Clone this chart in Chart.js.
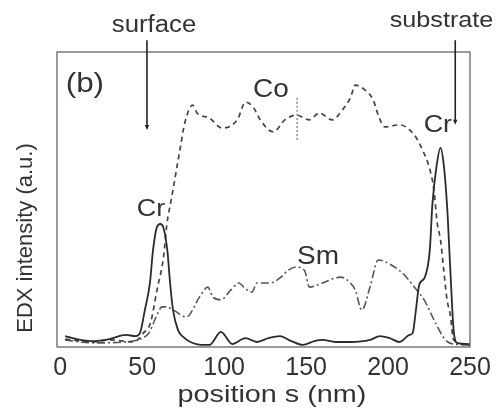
<!DOCTYPE html>
<html>
<head>
<meta charset="utf-8">
<script src="https://cdn.jsdelivr.net/npm/chart.js@4"></script>
<style>
  html, body { margin: 0; padding: 0; background: #fff; }
  #wrap { width: 500px; height: 415px; }
</style>
</head>
<body>
<div id="wrap"><canvas id="edx" width="500" height="415"></canvas></div>
<script>
// ── EDX line scan data (position s in nm, intensity in a.u. 0..100) ──
const crX = [3,10,20,30,40,46,48.6,51.6,54.7,56.6,59,61,62.8,65.3,67,68.8,71.8,75,83,91,98,105,113,120,127,134,141,148,155,160,168,177,189,195,201,207,213,215,217,219,222.5,225.5,227,229.5,232,234,236,238,240,242,250];
const crY = [3.7,2.7,2.0,2.7,4.1,3.7,4.7,12.5,21.7,32.9,40.7,41.7,40.7,32.9,21.7,12.5,5.8,3.4,1,0.7,5.1,1,3,1.7,3,3.7,2,0.7,2,2.4,1.7,1.7,2.4,3.7,3,1.7,4.1,4.7,12.5,21,23.7,33,48,61,67.5,61.7,48,26,5.8,1.4,1];

const coX = [3,20,30,45,50.6,55,59,63,65,68,73,76,80.8,83.5,91,99,108,113,117.6,122,130,137,144,152,158,166,172,177,180,186,191,194,198,207,216,221,225.6,228,230,232,234,236,238,240,250];
const coY = [2.7,1.7,2.4,1.7,4.7,8.1,19.3,30.5,41.4,50.8,66.8,76,82,79.3,77.6,74.2,77,83,81.4,77,72.9,77,78.6,77,79.3,77,80.3,84.4,88.8,87.1,83.7,78.6,74.6,75.3,71.9,66.8,60,53.2,42,36.3,26,16,10.8,2.4,0.7];

const smX = [3,20,40,50,54,59,62,65,69,77,85,90,93,98,104,109,112,117,120,128,134,139,144,149,152,160,171,177,180,184,189,194,202,210,216,222,229,235,240,250];
const smY = [2.4,1.4,1.7,3,4.7,10.8,13.6,13.6,12.5,10.2,17,20.3,17,16,19.3,21.7,20.3,18.6,21.7,21.7,23.4,26,27.1,26,20.3,21.7,23.7,21.7,19.3,12.5,20.3,29.5,27.8,24.4,20.3,16,8.1,2.4,1,0.7];

// little dotted error mark on the Co plateau
const barX = [144.5, 144.5];
const barY = [70.2, 84.7];

const xTicks = [0, 50, 100, 150, 200, 250];

const FONT = '"Liberation Sans", Arial, sans-serif';
const INK = '#333';

const pts = (xs, ys) => xs.map((x, i) => ({ x, y: ys[i] }));

// ── frame, arrows and labels ──
const decor = {
  id: 'decor',
  afterDatasetsDraw(chart) {
    const { ctx, chartArea: a } = chart;
    ctx.save();
    ctx.strokeStyle = '#666';
    ctx.lineWidth = 1.3;
    ctx.strokeRect(a.left, a.top, a.right - a.left, a.bottom - a.top);
    ctx.restore();
  },
  afterDraw(chart) {
    const { ctx } = chart;
    const xs = chart.scales.x, ys = chart.scales.y;
    const px = v => xs.getPixelForValue(v);
    const py = v => ys.getPixelForValue(v);

    function text(t, x, y, size, sx) {
      ctx.save();
      ctx.font = size + 'px ' + FONT;
      ctx.fillStyle = INK;
      ctx.textAlign = 'center';
      ctx.textBaseline = 'alphabetic';
      ctx.translate(x, y);
      ctx.scale(sx, 1);
      ctx.fillText(t, 0, 0);
      ctx.restore();
    }
    function arrow(s, v0, v1) {
      const x = px(s), y0 = py(v0), y1 = py(v1);
      ctx.save();
      ctx.strokeStyle = '#222';
      ctx.fillStyle = '#222';
      ctx.lineWidth = 1.6;
      ctx.beginPath();
      ctx.moveTo(x, y0);
      ctx.lineTo(x, y1 - 3);
      ctx.stroke();
      ctx.beginPath();
      ctx.moveTo(x - 2.2, y1 - 5);
      ctx.lineTo(x + 2.2, y1 - 5);
      ctx.lineTo(x, y1);
      ctx.closePath();
      ctx.fill();
      ctx.restore();
    }

    arrow(52.9, 104, 73.6);
    arrow(241, 104, 75.3);

    text('surface', px(57.2), py(106.8), 23, 1.12);
    text('substrate', px(232.6), py(108.5), 22.5, 1.12);
    text('(b)', px(15), py(86.4), 28, 1.12);
    text('Cr', px(55.3), py(44.4), 24, 1.12);
    text('Cr', px(230.4), py(72.9), 24, 1.12);
    text('Co', px(128.5), py(84.7), 25, 1.12);
    text('Sm', px(157.3), py(28.1), 25, 1.12);

    // axis titles
    text('position s (nm)', 272, 402, 24, 1.2);
    ctx.save();
    ctx.translate(26, 238);
    ctx.rotate(-Math.PI / 2);
    ctx.font = '22px ' + FONT;
    ctx.fillStyle = INK;
    ctx.textAlign = 'center';
    ctx.textBaseline = 'middle';
    ctx.fillText('EDX intensity (a.u.)', 0, 0);
    ctx.restore();
  }
};

new Chart(document.getElementById('edx'), {
  type: 'line',
  data: {
    datasets: [
      { label: 'Cr', data: pts(crX, crY), borderColor: '#2a2a2a', borderWidth: 1.8 },
      { label: 'Co', data: pts(coX, coY), borderColor: '#444', borderWidth: 1.7, borderDash: [5, 4] },
      { label: 'Sm', data: pts(smX, smY), borderColor: '#555', borderWidth: 1.6, borderDash: [8, 3, 2, 3] },
      { label: 'err', data: pts(barX, barY), borderColor: '#777', borderWidth: 1.2, borderDash: [2, 2] }
    ]
  },
  options: {
    responsive: false,
    animation: false,
    cubicInterpolationMode: 'monotone',
    elements: { point: { radius: 0 }, line: { fill: false } },
    layout: { padding: { left: 57, right: 30, top: 52, bottom: 0 } },
    plugins: { legend: { display: false }, tooltip: { enabled: false } },
    scales: {
      x: {
        type: 'linear',
        min: -2,
        max: 250,
        grid: { display: false, drawTicks: false },
        border: { display: false },
        afterBuildTicks: s => { s.ticks = xTicks.map(v => ({ value: v })); },
        afterFit: s => { s.height = 68; },
        ticks: {
          autoSkip: false,
          maxRotation: 0,
          padding: 6,
          color: INK,
          font: { family: FONT, size: 25 }
        }
      },
      y: { display: false, min: 0, max: 100 }
    }
  },
  plugins: [decor]
});
</script>
</body>
</html>
